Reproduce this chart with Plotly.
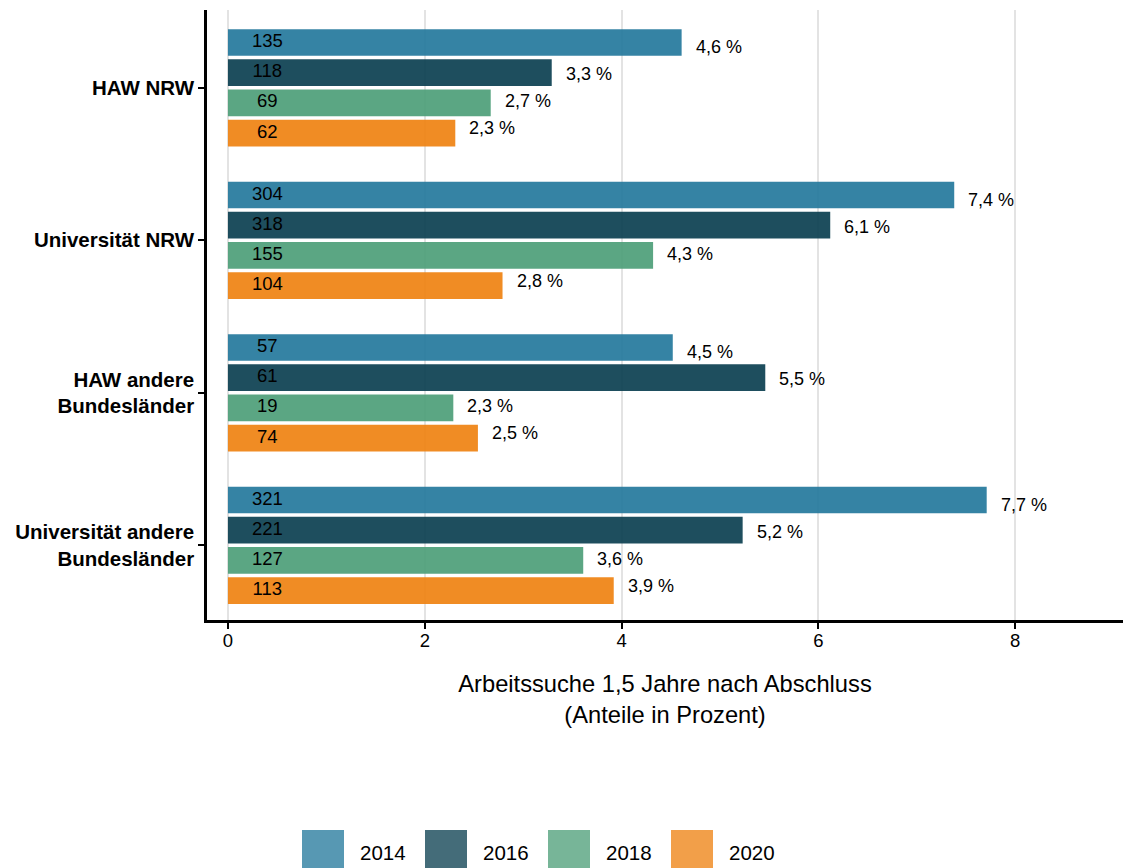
import plotly.graph_objects as go

# ---------------- data ----------------
categories = ["HAW NRW", "Universität NRW", "HAW andere<br>Bundesländer",
              "Universität andere<br>Bundesländer"]
years = ["2014", "2016", "2018", "2020"]

pct_2014 = [4.61, 7.38, 4.52, 7.71]
pct_2016 = [3.29, 6.12, 5.46, 5.23]
pct_2018 = [2.67, 4.32, 2.29, 3.61]
pct_2020 = [2.31, 2.79, 2.54, 3.92]

n_2014 = [135, 304, 57, 321]
n_2016 = [118, 318, 61, 221]
n_2018 = [69, 155, 19, 127]
n_2020 = [62, 104, 74, 113]

x_ticks = [0, 2, 4, 6, 8]

pcts = [pct_2014, pct_2016, pct_2018, pct_2020]
counts = [n_2014, n_2016, n_2018, n_2020]

# ---------------- style ----------------
base_rgb = [(31, 118, 154), (5, 59, 76), (73, 156, 117), (238, 127, 12)]
BAR_ALPHA = 0.9
KEY_ALPHA = 0.75
BAR_PITCH = 0.198
BAR_W = 0.175
LABEL_PITCH = 0.177
COUNT_X = 0.4
FONT = "Liberation Sans, Arial, Helvetica, sans-serif"

FIG_W, FIG_H = 1123, 868
M_L, M_T, M_R, M_B = 207, 10, 0, 248
PLOT_W = FIG_W - M_L - M_R
PLOT_H = FIG_H - M_T - M_B


def rgba(c, a):
    return f"rgba({c[0]},{c[1]},{c[2]},{a})"


def fmt(v):
    return f"{v:.1f}".replace(".", ",") + " %"


def px_to_paper_x(px):
    return (px - M_L) / PLOT_W


def px_to_paper_y(py):
    return (M_T + PLOT_H - py) / PLOT_H


fig = go.Figure()

for j, year in enumerate(years):
    ypos = [i + (j - 1.5) * BAR_PITCH for i in range(len(categories))]
    fig.add_trace(go.Bar(
        x=pcts[j], y=ypos, orientation="h", width=BAR_W, name=year,
        marker=dict(color=rgba(base_rgb[j], BAR_ALPHA), line=dict(width=0)),
        showlegend=False, hoverinfo="skip",
    ))
    fig.add_trace(go.Scatter(
        x=[COUNT_X] * len(categories), y=ypos, mode="text",
        text=[str(n) for n in counts[j]], textposition="middle center",
        textfont=dict(size=18.5, color="black", family=FONT),
        showlegend=False, hoverinfo="skip",
    ))
    for i, v in enumerate(pcts[j]):
        fig.add_annotation(
            x=v, y=i + (j - 1.5) * LABEL_PITCH, text=fmt(v),
            xanchor="left", yanchor="middle", xshift=12, showarrow=False,
            font=dict(size=18, color="black", family=FONT),
        )

# ---------------- manual legend (large keys) ----------------
KEY_X0, KEY_PITCH, KEY_SIZE, KEY_TOP = 302, 123, 42, 830
for j, year in enumerate(years):
    x0 = KEY_X0 + j * KEY_PITCH
    fig.add_shape(
        type="rect", xref="paper", yref="paper",
        x0=px_to_paper_x(x0), x1=px_to_paper_x(x0 + KEY_SIZE),
        y0=px_to_paper_y(KEY_TOP), y1=px_to_paper_y(KEY_TOP + KEY_SIZE),
        fillcolor=rgba(base_rgb[j], KEY_ALPHA), line=dict(width=0),
    )
    fig.add_annotation(
        xref="paper", yref="paper",
        x=px_to_paper_x(x0 + KEY_SIZE + 14),
        y=px_to_paper_y(KEY_TOP + KEY_SIZE / 2 + 1),
        text=year, showarrow=False, xanchor="left", yanchor="middle",
        font=dict(size=20.5, color="black", family=FONT),
    )

fig.update_layout(
    width=FIG_W, height=FIG_H,
    margin=dict(l=M_L, r=M_R, t=M_T, b=M_B, autoexpand=False),
    plot_bgcolor="white", paper_bgcolor="white",
    barmode="overlay", showlegend=False,
    font=dict(family=FONT, color="black"),
    xaxis=dict(
        automargin=False,
        range=[-0.213, 9.095], tickvals=x_ticks,
        ticktext=[str(t) for t in x_ticks],
        showgrid=True, gridcolor="#E3E3E3", gridwidth=2,
        minor=dict(dtick=1, tick0=0, showgrid=True, gridcolor="white", gridwidth=1.2),
        zeroline=False, showline=True, linecolor="black", linewidth=2.5,
        ticks="outside", ticklen=6, tickwidth=2, tickcolor="black",
        ticklabelstandoff=-4,
        tickfont=dict(size=18.5, color="black", family=FONT),
        title=dict(text="Arbeitssuche 1,5 Jahre nach Abschluss<br>(Anteile in Prozent)",
                   font=dict(size=23.7, color="black", family=FONT), standoff=26),
    ),
    yaxis=dict(
        automargin=False,
        range=[3.49, -0.51], tickvals=list(range(len(categories))),
        ticktext=categories, showgrid=False, zeroline=False,
        showline=True, linecolor="black", linewidth=2.5,
        ticks="outside", ticklen=6, tickwidth=2, tickcolor="black",
        ticklabelstandoff=0,
        tickfont=dict(size=20.5, color="black", family=FONT, weight="bold"),
    ),
)

fig.write_html(
    "out.html",
    config={"displayModeBar": False},
    post_script="document.body.style.margin='0';document.body.style.overflow='hidden';",
)
